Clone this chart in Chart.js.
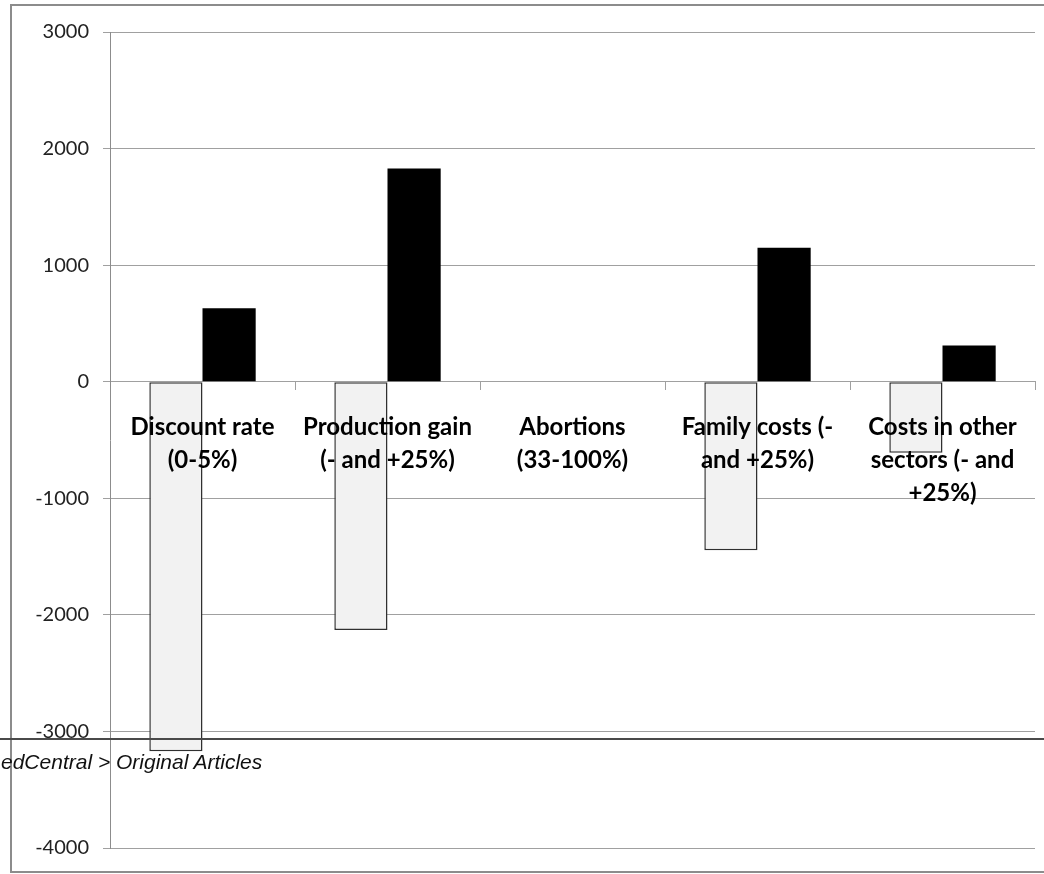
<!DOCTYPE html>
<html>
<head>
<meta charset="utf-8">
<script src="https://cdn.jsdelivr.net/npm/chart.js@4/dist/chart.umd.min.js"></script>
<style>
  html, body { margin: 0; padding: 0; background: #fff; overflow: hidden; }
  #wrap { position: relative; width: 1044px; height: 874px; }
  #frame {
    position: absolute; left: 10px; top: 4px; width: 1060px; height: 865px;
    border: 2px solid #8c8c8c; box-sizing: content-box; pointer-events: none;
  }
  #chart { position: absolute; left: 0; top: 0; }
  #rule {
    position: absolute; left: 0; top: 738px; width: 1044px; height: 2px;
    background: #4a4a4a;
  }
  #crumb {
    position: absolute; left: 1px; top: 749px; white-space: nowrap;
    font-family: "Liberation Sans", Arial, sans-serif; font-style: italic;
    font-size: 21px; line-height: 26px; color: #111;
  }
</style>
</head>
<body>
<div id="wrap">
  <div id="frame"></div>
  <canvas id="chart" width="1044" height="874"></canvas>
  <div id="rule"></div>
  <div id="crumb">edCentral &gt; Original Articles</div>
</div>
<script>
// Sensitivity ranges per parameter: low end (light bars) and high end (black bars)
const categories = [
  ["Discount rate", "(0-5%)"],
  ["Production gain", "(- and +25%)"],
  ["Abortions", "(33-100%)"],
  ["Family costs (-", "and +25%)"],
  ["Costs in other", "sectors (- and", "+25%)"]
];
const lowValues  = [-3170, -2130, 0, -1445, -610];
const highValues = [630, 1830, 0, 1150, 310];
const yMin = -4000;
const yMax = 3000;
const yStep = 1000;

new Chart(document.getElementById('chart'), {
  type: 'bar',
  data: {
    labels: categories,
    datasets: [
      {
        label: 'Low',
        data: lowValues,
        backgroundColor: '#f2f2f2',
        borderColor: '#303030',
        borderWidth: 1.5,
        borderSkipped: false
      },
      {
        label: 'High',
        data: highValues,
        backgroundColor: '#000000',
        borderWidth: 0
      }
    ]
  },
  options: {
    responsive: false,
    animation: false,
    events: [],
    layout: { padding: { left: 0, top: 32, right: 9, bottom: 26 } },
    datasets: {
      bar: { categoryPercentage: 0.575, barPercentage: 1.0 }
    },
    plugins: {
      legend: { display: false },
      tooltip: { enabled: false },
      title: { display: false }
    },
    scales: {
      x: {
        type: 'category',
        position: { y: 0 },
        offset: true,
        grid: {
          offset: true,
          drawOnChartArea: false,
          drawTicks: true,
          tickLength: 8,
          color: '#a0a0a0'
        },
        border: { display: true, color: '#a0a0a0', width: 1 },
        ticks: {
          z: 1,
          autoSkip: false,
          maxRotation: 0,
          minRotation: 0,
          padding: 21,
          color: '#000',
          font: { family: 'Lato, "Noto Sans", sans-serif', size: 24, weight: 'bold', lineHeight: 33 / 24 }
        }
      },
      y: {
        min: yMin,
        max: yMax,
        afterFit: (scale) => { scale.width = 110; },
        grid: {
          color: '#a0a0a0',
          lineWidth: 1,
          drawTicks: true,
          tickLength: 7
        },
        border: { display: true, color: '#8c8c8c', width: 1 },
        ticks: {
          stepSize: yStep,
          padding: 14,
          color: '#222',
          font: { family: 'Lato, "Noto Sans", sans-serif', size: 20 },
          callback: (value) => String(value)
        }
      }
    }
  }
});
</script>
</body>
</html>
